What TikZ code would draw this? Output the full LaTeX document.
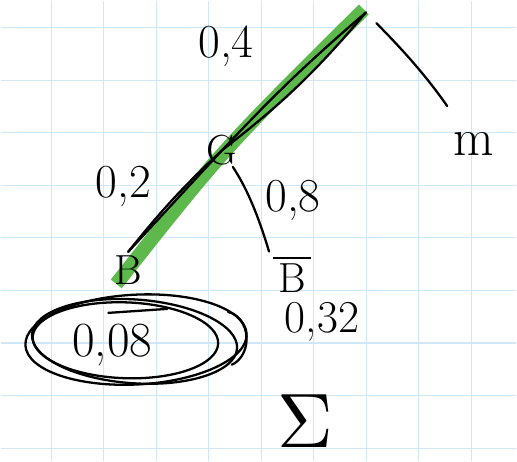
\documentclass[tikz,border=0pt]{standalone}
\usepackage{amsmath,amssymb}
\usepackage{xcolor}
\usepackage{tikz}
\usetikzlibrary{shapes.geometric,backgrounds}

\definecolor{gridblue}{HTML}{CFE8F8}
\definecolor{marker}{HTML}{5DB94B}

\begin{document}
\begin{tikzpicture}[
  x=0.02cm, y=-0.02cm,
  ink/.style={black, line width=1.3pt, line cap=round, line join=round},
  lbl/.style={font=\fontsize{27}{30}\selectfont, inner sep=1pt},
  leaf/.style={font=\fontsize{24}{26}\selectfont, inner sep=2pt},
  hl/.style={draw=marker, line width=8pt, line cap=butt},
]
  %% tree nodes
  \coordinate (root) at (366,12);
  \node[leaf] (G)  at (222,150) {G};
  \node[leaf] (B)  at (128,270) {B};
  \node[leaf] (nB) at (292,274) {$\overline{\hspace{3pt}\text{B}\hspace{3pt}}$};
  \node[lbl, font=\fontsize{30}{32}\selectfont] (m) at (474,144) {m};

  %% paper with grid, and the highlighted path under the ink
  \begin{scope}[on background layer]
    \fill[white] (0,0) rectangle (517,461);
    \foreach \i in {0,...,8} {
      \draw[gridblue, line width=0.6pt] (51+52.6*\i,0) -- (51+52.6*\i,461);
      \draw[gridblue, line width=0.6pt] (0,27+52.7*\i) -- (517,27+52.7*\i);
    }
    \draw[hl] (116,284) .. controls (G.center) .. (364,9);
  \end{scope}
  \useasboundingbox (0,0) rectangle (517,461);

  %% branches
  \draw[ink] (root) to[bend left=6] (G.center);
  \draw[ink] (root) to[bend right=3] (G.center);
  \draw[ink] (G.center) to[bend right=4] (B.north);
  \draw[ink] (G.center) -- (B.north);
  \draw[ink, shorten <=0.3cm, shorten >=0.6cm] (root) to[bend left=5] (m);
  \draw[ink, shorten <=0.4cm] (G.center) to[bend left=8] (nB.north west);

  %% probabilities
  \node[lbl] (p04) at (226,46)  {0,4};
  \node[lbl] (p02) at (123,186) {0,2};
  \node[lbl] (p08) at (293,200) {0,8};

  %% results
  \node[font=\fontsize{28}{30}\selectfont] (r08) at (112,345) {0,08};
  \draw[ink, rotate around={-2:([shift={(13,-5)}]r08.center)}]
    ([shift={(13,-5)}]r08.center) ellipse [x radius=1.86cm, y radius=0.76cm];
  \draw[ink, rotate around={-4:([shift={(22,-5)}]r08.center)}]
    ([shift={(22,-5)}]r08.center) ellipse [x radius=2.06cm, y radius=0.84cm];
  \draw[ink, rotate around={3:([shift={(24,-4)}]r08.center)}]
    ([shift={(24,-4)}]r08.center) ellipse [x radius=2.22cm, y radius=0.9cm];
  \draw[ink] (228,312) arc[start angle=80, end angle=-70, x radius=0.45cm, y radius=0.55cm];
  \draw[ink] (108,313) -- (167,309);
  \node[lbl, font=\fontsize{26}{28}\selectfont] (r32) at (322,322) {0,32};
  \node[scale=4.4] (sum) at (305,421) {$\Sigma$};
\end{tikzpicture}
\end{document}
